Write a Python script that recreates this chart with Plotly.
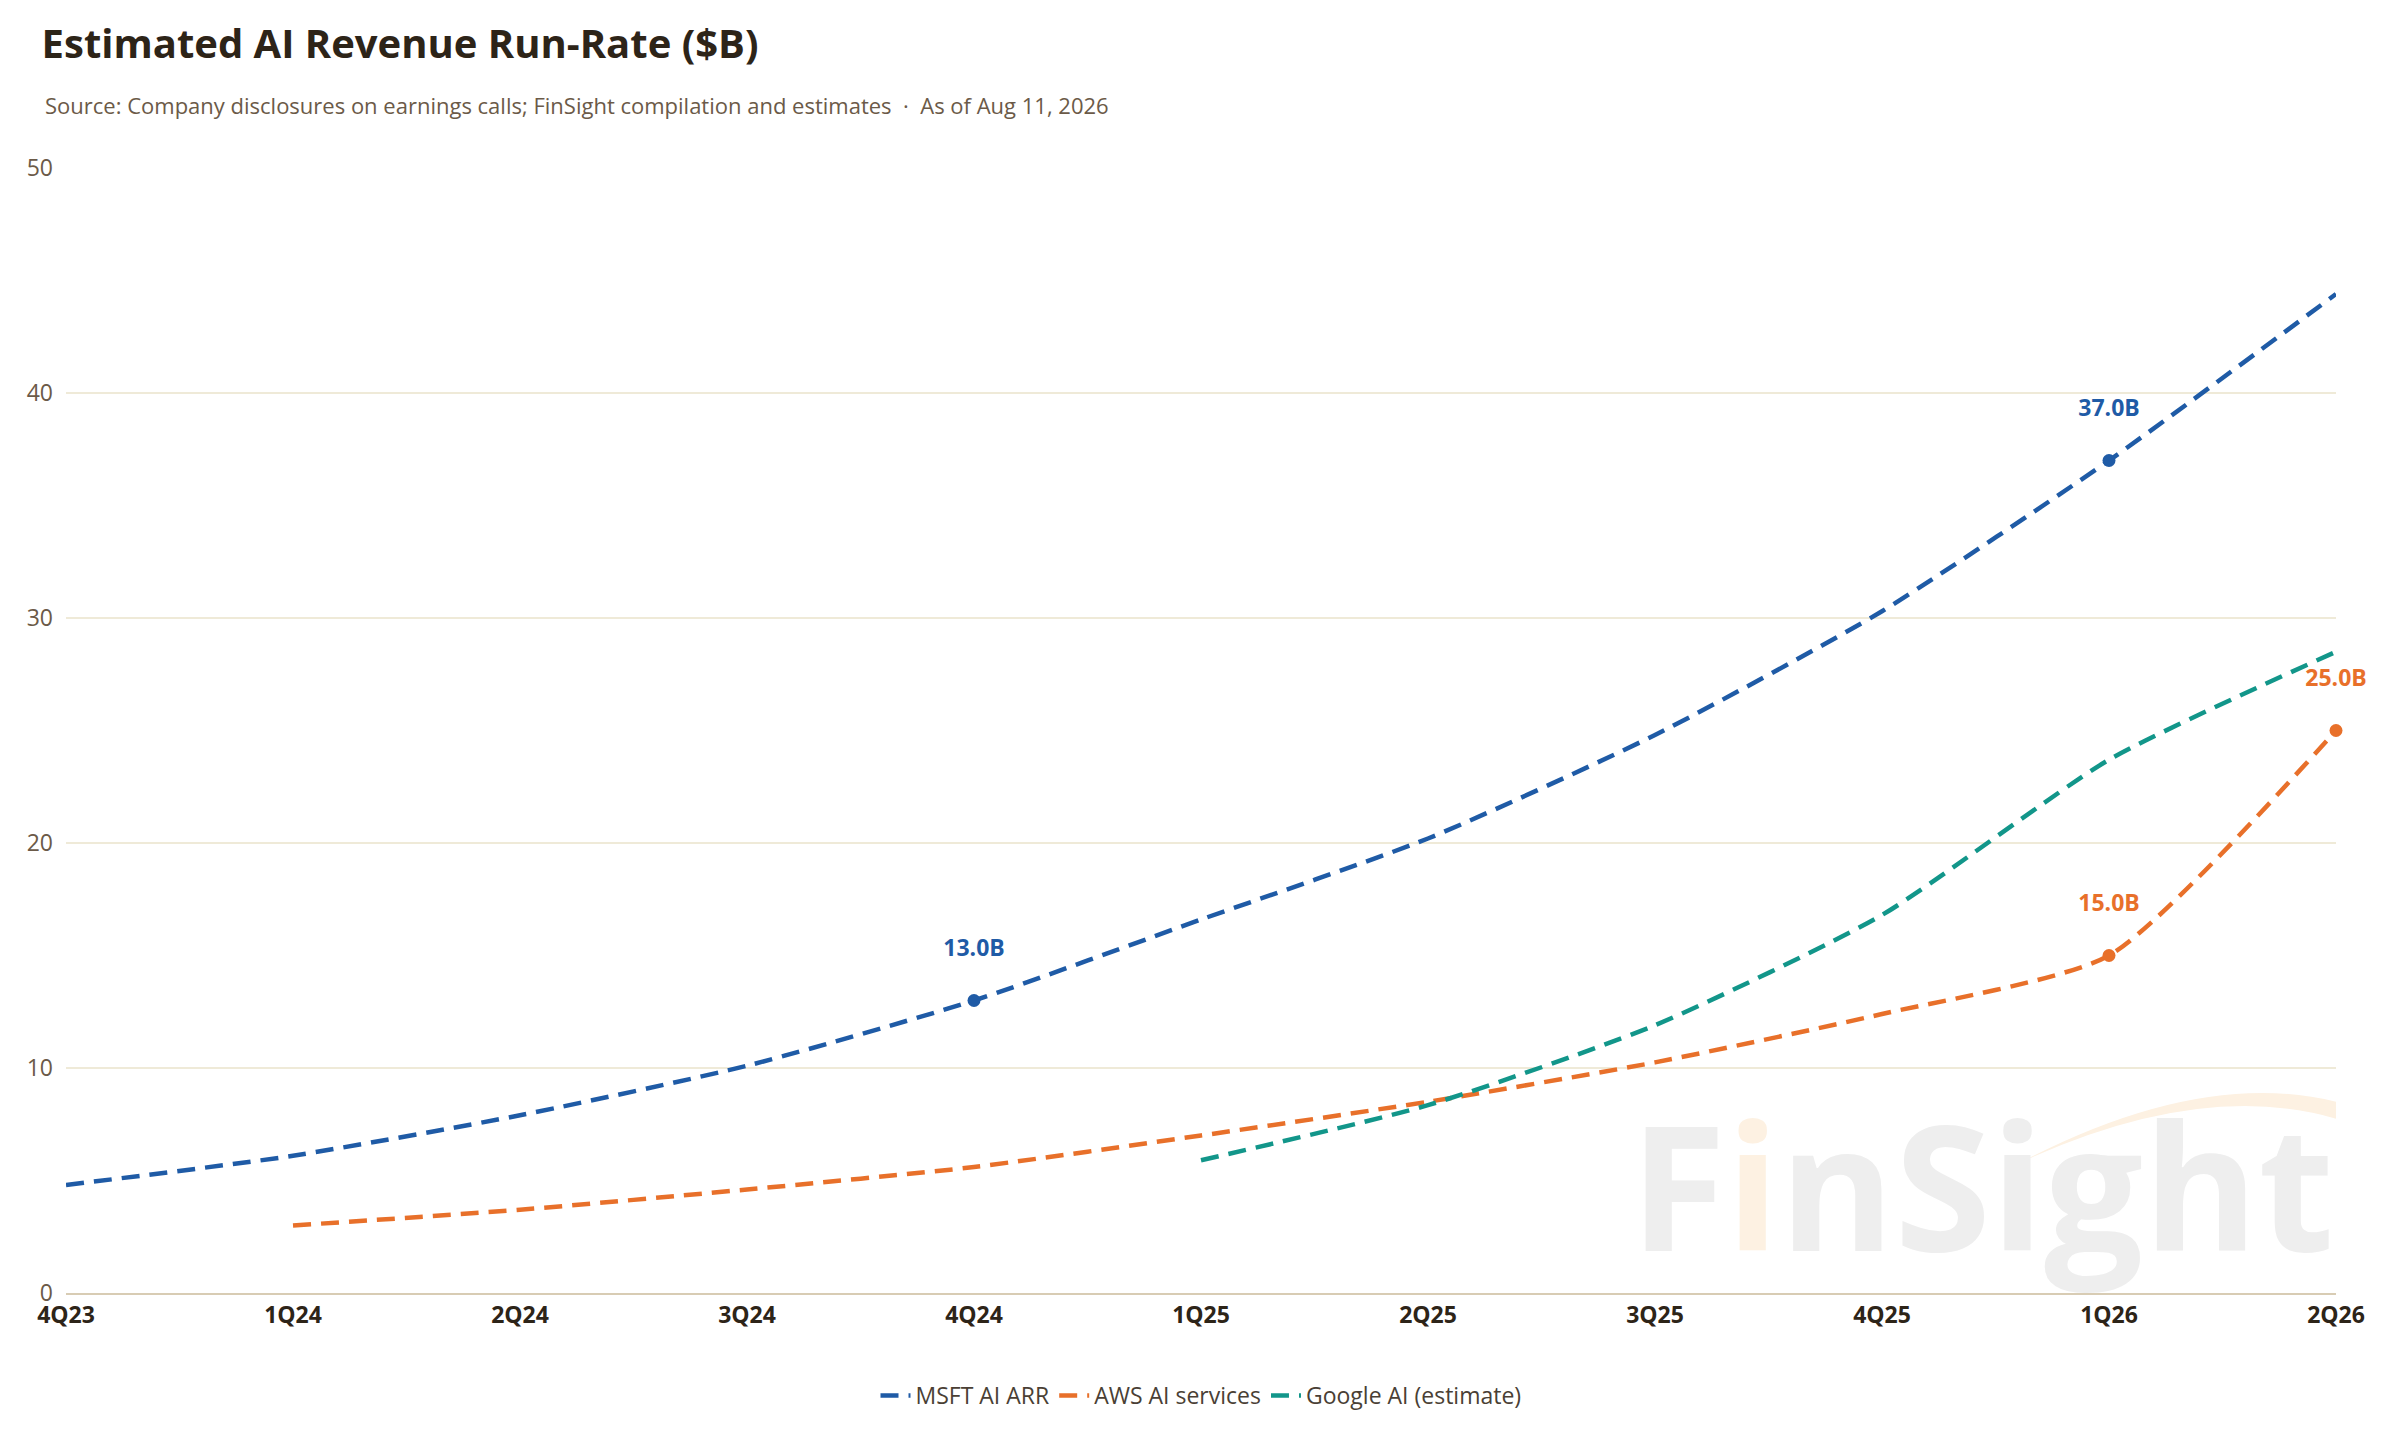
import plotly.graph_objects as go

quarters = ["4Q23","1Q24","2Q24","3Q24","4Q24","1Q25","2Q25","3Q25","4Q25","1Q26","2Q26"]
msft = [4.8, 6.1, 7.9, 10.1, 13.0, 16.6, 20.2, 24.8, 30.3, 37.0, 44.4]
aws = [None, 3.0, 3.7, 4.6, 5.6, 7.0, 8.5, 10.25, 12.4, 15.0, 25.0]
google = [None, None, None, None, None, 5.9, 8.35, 11.9, 16.8, 23.7, 28.5]
msft_labels = {"4Q24": 13.0, "1Q26": 37.0}
aws_labels = {"1Q26": 15.0, "2Q26": 25.0}

C_MS, C_AWS, C_G = "#1f5ba6", "#e8702a", "#12968a"
fig = go.Figure()
for name, ys, c in [("MSFT AI ARR", msft, C_MS), ("AWS AI services", aws, C_AWS), ("Google AI (estimate)", google, C_G)]:
    fig.add_trace(go.Scatter(x=quarters, y=ys, name=name, mode="lines",
                             line=dict(color=c, width=4.5, dash="18px,10px", shape="spline", smoothing=0.6)))
for lab, c in [(msft_labels, C_MS), (aws_labels, C_AWS)]:
    fig.add_trace(go.Scatter(x=list(lab.keys()), y=list(lab.values()), mode="markers+text",
                             marker=dict(color=c, size=13), text=[f"{v:.1f}B<br> " for v in lab.values()],
                             textposition="top center", textfont=dict(color=c, size=23, family="Open Sans", weight="bold"),
                             showlegend=False, cliponaxis=False))

fig.add_annotation(text="F<span style='color:#fdf1e2'>i</span>nSight", xref="paper", yref="paper", x=1.0, y=-0.01,
                   xanchor="right", yanchor="bottom", showarrow=False,
                   font=dict(size=175, color="#eeeeee", family="Open Sans", weight="bold"))
fig.add_shape(type="path", xref="paper", yref="paper",
              path="M 0.86,0.115 Q 0.94,0.2 1.0,0.17 L 1.0,0.155 Q 0.94,0.19 0.86,0.115 Z",
              fillcolor="#fdf1e2", line=dict(width=0), layer="below")

fig.update_layout(
    width=2400, height=1440, paper_bgcolor="white", plot_bgcolor="white",
    margin=dict(l=58, r=72, t=160, b=155),
    font=dict(family="Open Sans", color="#5a4a3a", size=22),
    title=dict(text="<b>Estimated AI Revenue Run-Rate ($B)</b>", x=0.014, xanchor="left", y=0.985, yanchor="top",
               font=dict(size=40, color="#2d2418")),
    legend=dict(orientation="h", x=0.5, xanchor="center", y=-0.072, yanchor="top", font=dict(size=23, color="#4a3f35")),
    xaxis=dict(type="category", range=[0, 10], showgrid=False, showline=True, linecolor="#d8ccb4", linewidth=2,
               tickfont=dict(size=23, color="#2d2418", weight="bold"), ticks=""),
    yaxis=dict(range=[0, 50], dtick=10, gridcolor="#efead8", gridwidth=1.5, zeroline=False,
               tickfont=dict(size=23, color="#6b5a48"), ticklabelstandoff=12),
)
fig.add_annotation(text="Source: Company disclosures on earnings calls; FinSight compilation and estimates  ·  As of Aug 11, 2026",
                   xref="paper", yref="paper", x=-0.01, y=1.056, xanchor="left", yanchor="middle", showarrow=False,
                   font=dict(size=22, color="#6b5a48"))
fig.write_html("out.html")
